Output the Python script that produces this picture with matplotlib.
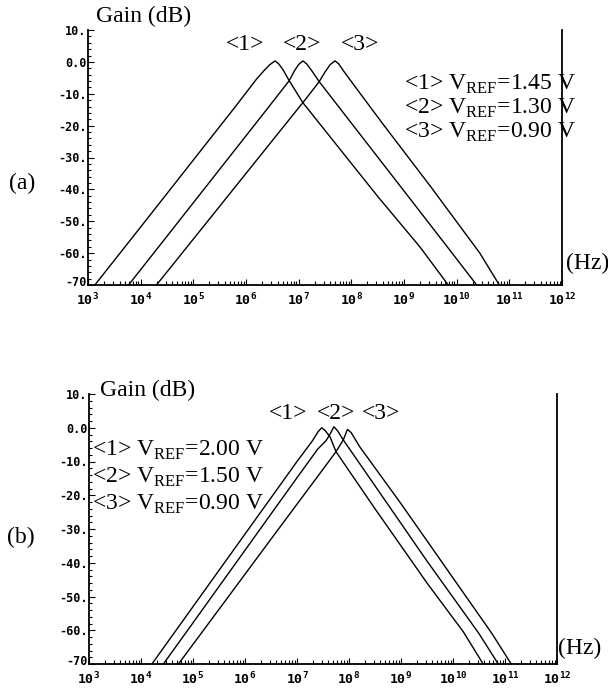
import matplotlib
matplotlib.use('Agg')
import matplotlib.pyplot as plt
import matplotlib.transforms as mtransforms
from matplotlib.ticker import LogLocator, MultipleLocator, NullFormatter
import numpy as np

plt.rcParams['font.family'] = ['Liberation Serif', 'DejaVu Serif']
plt.rcParams['mathtext.fontset'] = 'custom'
plt.rcParams['mathtext.rm'] = 'Liberation Serif'
plt.rcParams['mathtext.sf'] = 'DejaVu Sans Mono:bold'

# (a) log10(frequency / Hz) and gain in dB
a1_logf = [3.13, 4.0, 5.0, 5.8, 6.2, 6.35, 6.45, 6.55, 6.62, 6.7, 6.82, 7.08, 7.5, 8.5, 9.3, 9.84]
a1_gain = [-70, -51.8, -30.8, -14.0, -5.4, -2.6, -0.9, 0.3, -0.6, -2.4, -5.9, -12.8, -21.5, -42.2, -58.0, -70]
a2_logf = [3.77, 4.5, 5.5, 6.4, 6.82, 6.92, 7.0, 7.08, 7.15, 7.25, 7.39, 8.0, 9.0, 9.9, 10.38]
a2_gain = [-70, -54.7, -33.7, -14.8, -5.9, -2.8, -0.8, 0.3, -0.6, -2.8, -6.2, -19.2, -40.5, -59.7, -70]
a3_logf = [4.30, 5.0, 6.0, 7.0, 7.08, 7.39, 7.5, 7.6, 7.69, 7.76, 7.85, 8.05, 8.6, 9.5, 10.44, 10.81]
a3_gain = [-70, -55.6, -35.0, -14.4, -12.8, -6.2, -3.2, -0.8, 0.3, -0.6, -2.8, -7.3, -19.5, -39.0, -60.0, -70]

# (b)
b1_logf = [4.21, 5.0, 6.0, 7.0, 7.3, 7.4, 7.475, 7.54, 7.635, 7.75, 8.5, 9.5, 10.2, 10.58]
b1_gain = [-70, -53.0, -31.5, -10.0, -3.8, -1.3, 0.0, -0.8, -2.7, -7.1, -24.0, -46.0, -60.5, -70]
b2_logf = [4.43, 5.0, 6.0, 7.0, 7.4, 7.56, 7.635, 7.71, 7.78, 7.89, 8.5, 9.5, 10.5, 10.87]
b2_gain = [-70, -57.8, -36.3, -14.8, -6.3, -3.8, -1.9, 0.3, -0.9, -3.6, -17.2, -39.5, -61.0, -70]
b3_logf = [4.72, 5.5, 6.5, 7.5, 7.75, 7.89, 7.97, 8.04, 8.2, 9.0, 10.0, 10.75, 11.12]
b3_gain = [-70, -53.8, -33.0, -12.3, -7.1, -3.6, -0.5, -1.4, -5.5, -22.5, -44.5, -61.0, -70]

a_labels = ['<1> V$_{\\rm REF}$=1.45 V', '<2> V$_{\\rm REF}$=1.30 V', '<3> V$_{\\rm REF}$=0.90 V']
b_labels = ['<1> V$_{\\rm REF}$=2.00 V', '<2> V$_{\\rm REF}$=1.50 V', '<3> V$_{\\rm REF}$=0.90 V']
curve_tags = ['<1>', '<2>', '<3>']

y_ticks = [10, 0, -10, -20, -30, -40, -50, -60, -70]
y_ticklabels = ['10.', '0.0', '-10.', '-20.', '-30.', '-40.', '-50.', '-60.', '-70']
x_exps = [3, 4, 5, 6, 7, 8, 9, 10, 11, 12]

W, H = 608, 692


def fx(px):
    return px / W


def fy(py):
    return 1 - py / H


def draw_panel(fig, ax, curves):
    for logf, gain in curves:
        ax.plot(np.power(10.0, logf), gain, color='black', lw=1.0)

    ax.set_xscale('log')
    ax.set_xlim(1e3, 1e12)
    ax.set_ylim(-70, 10)

    ax.set_xticks([10.0 ** e for e in x_exps])
    ax.set_xticklabels(['$\\mathsf{10}^{\\mathsf{%d}}$' % e for e in x_exps])
    ax.xaxis.set_minor_locator(LogLocator(base=10, subs=np.arange(2, 10), numticks=30))
    ax.xaxis.set_minor_formatter(NullFormatter())

    ax.set_yticks(y_ticks)
    ax.set_yticklabels(y_ticklabels, family='DejaVu Sans Mono', fontweight='bold', fontsize=8.5)
    ax.yaxis.set_minor_locator(MultipleLocator(2))

    ax.spines['top'].set_visible(False)
    for s in ['left', 'bottom', 'right']:
        ax.spines[s].set_linewidth(1.3)

    ax.tick_params(axis='x', which='major', direction='in', length=4, width=0.8, pad=5, labelsize=9.5)
    ax.tick_params(axis='x', which='minor', direction='in', length=3, width=0.8)
    ax.tick_params(axis='y', which='major', direction='in', length=4, width=0.8, pad=1)
    ax.tick_params(axis='y', which='minor', direction='in', length=2.5, width=0.8)
    ax.patch.set_alpha(0)

    # the -70 label sits a little above the axis line in the original
    lowest = ax.get_yticklabels()[-1]
    lowest.set_transform(lowest.get_transform() +
                         mtransforms.ScaledTranslation(0, 3 / 72, fig.dpi_scale_trans))


fig = plt.figure(figsize=(6.08, 6.92), dpi=100)

ax_a = fig.add_axes([fx(88), fy(285), fx(562) - fx(88), fy(30) - fy(285)])
draw_panel(fig, ax_a, [(a1_logf, a1_gain), (a2_logf, a2_gain), (a3_logf, a3_gain)])

ax_b = fig.add_axes([fx(89), fy(664), fx(557) - fx(89), fy(394) - fy(664)])
draw_panel(fig, ax_b, [(b1_logf, b1_gain), (b2_logf, b2_gain), (b3_logf, b3_gain)])

fs = 17

# panel (a) texts
fig.text(fx(96), fy(16), 'Gain (dB)', fontsize=fs, ha='left', va='center')
fig.text(fx(22), fy(183), '(a)', fontsize=fs, ha='center', va='center')
for tag, px in zip(curve_tags, [245, 302, 360]):
    fig.text(fx(px), fy(45), tag, fontsize=fs, ha='center', va='center')
for lab, py in zip(a_labels, [90, 114, 138]):
    fig.text(fx(576), fy(py), lab, fontsize=fs, ha='right', va='baseline')
fig.text(fx(566), fy(263), '(Hz)', fontsize=fs, ha='left', va='center')

# panel (b) texts
fig.text(fx(100), fy(390), 'Gain (dB)', fontsize=fs, ha='left', va='center')
fig.text(fx(21), fy(537), '(b)', fontsize=fs, ha='center', va='center')
for tag, px in zip(curve_tags, [288, 336, 381]):
    fig.text(fx(px), fy(413), tag, fontsize=fs, ha='center', va='center')
for lab, py in zip(b_labels, [456, 483, 510]):
    fig.text(fx(92), fy(py), lab, fontsize=fs, ha='left', va='baseline')
fig.text(fx(558), fy(648), '(Hz)', fontsize=fs, ha='left', va='center')

fig.savefig('out.png', dpi=100)
